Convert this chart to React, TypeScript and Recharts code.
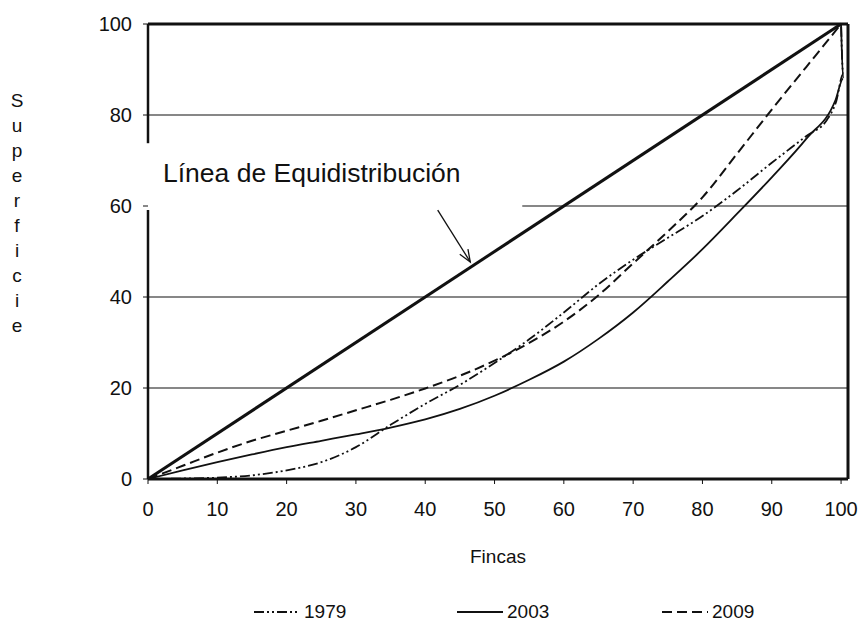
import { LineChart, Line, XAxis, YAxis, ReferenceLine, ReferenceArea } from "recharts";

// Lorenz curves (% fincas vs % superficie)
const fincas1979 = [0, 5, 10, 15, 20, 25, 30, 35, 40, 45, 50, 55, 60, 65, 70, 75, 80, 85, 90, 95, 98, 99.3, 100.3, 100];
const sup1979 = [0, 0.1, 0.3, 0.8, 1.9, 3.7, 7.0, 11.9, 16.5, 20.7, 25.5, 30.7, 36.6, 42.8, 48.2, 53.0, 57.8, 63.4, 69.5, 75.4, 79, 83, 89, 100];

const fincas2003 = [0, 5, 10, 15, 20, 25, 30, 35, 40, 45, 50, 55, 60, 65, 70, 75, 80, 85, 90, 95, 99.2, 100.3, 100];
const sup2003 = [0, 1.9, 3.7, 5.4, 7.0, 8.4, 9.8, 11.3, 13.1, 15.4, 18.3, 21.8, 25.8, 30.8, 36.6, 43.4, 50.5, 58.3, 66.3, 74.8, 83.3, 88, 100];

const fincas2009 = [0, 5, 10, 15, 20, 25, 30, 35, 40, 45, 50, 55, 60, 65, 70, 75, 80, 85, 90, 95, 99, 100];
const sup2009 = [0, 2.9, 5.8, 8.4, 10.6, 12.8, 15.1, 17.4, 19.9, 22.7, 26.0, 29.9, 34.6, 40.4, 47.4, 54.4, 61.9, 71.5, 81.2, 90.6, 98.1, 100];

const equiX = [0, 100];
const equiY = [0, 100];

const xTicks = [0, 10, 20, 30, 40, 50, 60, 70, 80, 90, 100];
const yTicks = [0, 20, 40, 60, 80, 100];
const yLabel = "Superficie";

const toRows = (xs: number[], ys: number[]) => xs.map((x, i) => ({ x, y: ys[i] }));

const data1979 = toRows(fincas1979, sup1979);
const data2003 = toRows(fincas2003, sup2003);
const data2009 = toRows(fincas2009, sup2009);
const dataEqui = toRows(equiX, equiY);

const INK = "#111";
const DASH_1979 = "10 3 2 3 2 3";
const DASH_2009 = "10 5";

const Arrow = (props: any) => {
  const { x1, y1, x2, y2 } = props;
  const a = Math.atan2(y2 - y1, x2 - x1);
  const len = 13;
  const spread = 0.38;
  const p1 = [x2 - len * Math.cos(a - spread), y2 - len * Math.sin(a - spread)];
  const p2 = [x2 - len * Math.cos(a + spread), y2 - len * Math.sin(a + spread)];
  return (
    <g>
      <line x1={x1} y1={y1} x2={x2} y2={y2} stroke={INK} strokeWidth={1.3} />
      <polyline points={`${p1[0]},${p1[1]} ${x2},${y2} ${p2[0]},${p2[1]}`} fill="none" stroke={INK} strokeWidth={1.3} />
    </g>
  );
};

const legendItems = [
  { name: "1979", dash: DASH_1979, width: 1.8, left: 254 },
  { name: "2003", dash: undefined, width: 1.8, left: 457 },
  { name: "2009", dash: DASH_2009, width: 2, left: 662 },
];

export default function App() {
  return (
    <div style={{ position: "absolute", left: 0, top: 0, width: 858, height: 621, background: "#fff", fontFamily: "'Liberation Sans', Arial, sans-serif", color: INK }}>
      <LineChart width={858} height={621} margin={{ top: 24, right: 10, left: 88, bottom: 112 }}>
        <XAxis
          type="number"
          dataKey="x"
          domain={[0, 101]}
          ticks={xTicks}
          interval={0}
          axisLine={{ stroke: INK, strokeWidth: 3 }}
          tickLine={{ stroke: INK }}
          tickSize={5}
          tickMargin={18}
          tick={{ fill: INK, fontSize: 20 }}
          height={30}
          label={{ value: "Fincas", position: "bottom", offset: 41, fill: INK, fontSize: 19 }}
        />
        <YAxis
          type="number"
          dataKey="y"
          domain={[0, 100]}
          ticks={yTicks}
          interval={0}
          axisLine={false}
          tickLine={{ stroke: INK }}
          tickSize={5}
          tickMargin={11}
          tick={{ fill: INK, fontSize: 20 }}
          width={60}
        />

        {/* grid lines; the 60 line is interrupted by the annotation */}
        <ReferenceLine y={20} stroke={INK} strokeWidth={1.2} />
        <ReferenceLine y={40} stroke={INK} strokeWidth={1.2} />
        <ReferenceLine y={80} stroke={INK} strokeWidth={1.2} />
        <ReferenceLine segment={[{ x: 54, y: 60 }, { x: 101, y: 60 }]} stroke={INK} strokeWidth={1.2} />

        {/* frame */}
        <ReferenceLine y={100} stroke={INK} strokeWidth={3} />
        <ReferenceLine x={101} stroke={INK} strokeWidth={3} />
        <ReferenceLine segment={[{ x: 0, y: 0 }, { x: 0, y: 59.1 }]} stroke={INK} strokeWidth={2.5} />
        <ReferenceLine segment={[{ x: 0, y: 73.8 }, { x: 0, y: 100 }]} stroke={INK} strokeWidth={2.5} />

        <ReferenceArea
          x1={0}
          x2={54}
          y1={60.5}
          y2={74}
          fill="none"
          stroke="none"
          label={{ value: "Línea de Equidistribución", position: "insideLeft", offset: 15, fill: INK, fontSize: 26.5 }}
        />
        <ReferenceLine segment={[{ x: 41.8, y: 59.1 }, { x: 46.5, y: 47.7 }]} shape={Arrow} />

        <Line data={dataEqui} dataKey="y" type="linear" stroke={INK} strokeWidth={3} dot={false} isAnimationActive={false} />
        <Line data={data1979} dataKey="y" type="monotone" stroke={INK} strokeWidth={1.8} strokeDasharray={DASH_1979} dot={false} isAnimationActive={false} />
        <Line data={data2003} dataKey="y" type="monotone" stroke={INK} strokeWidth={1.8} dot={false} isAnimationActive={false} />
        <Line data={data2009} dataKey="y" type="monotone" stroke={INK} strokeWidth={2} strokeDasharray={DASH_2009} dot={false} isAnimationActive={false} />
      </LineChart>

      {/* vertical y-axis title, one letter per line */}
      <div style={{ position: "absolute", left: 10, top: 88, width: 14, textAlign: "center", fontSize: 19, lineHeight: "25px" }}>
        {yLabel.split("").map((ch, i) => (
          <div key={i}>{ch}</div>
        ))}
      </div>

      {/* legend */}
      <div style={{ position: "absolute", left: 0, top: 600, width: 858, height: 24, fontSize: 19, lineHeight: "24px" }}>
        {legendItems.map((it) => (
          <div key={it.name} style={{ position: "absolute", left: it.left, top: 0, display: "flex", alignItems: "center" }}>
            <svg width={46} height={24}>
              <line x1={0} y1={12} x2={46} y2={12} stroke={INK} strokeWidth={it.width} strokeDasharray={it.dash} />
            </svg>
            <span style={{ marginLeft: 4 }}>{it.name}</span>
          </div>
        ))}
      </div>
    </div>
  );
}
